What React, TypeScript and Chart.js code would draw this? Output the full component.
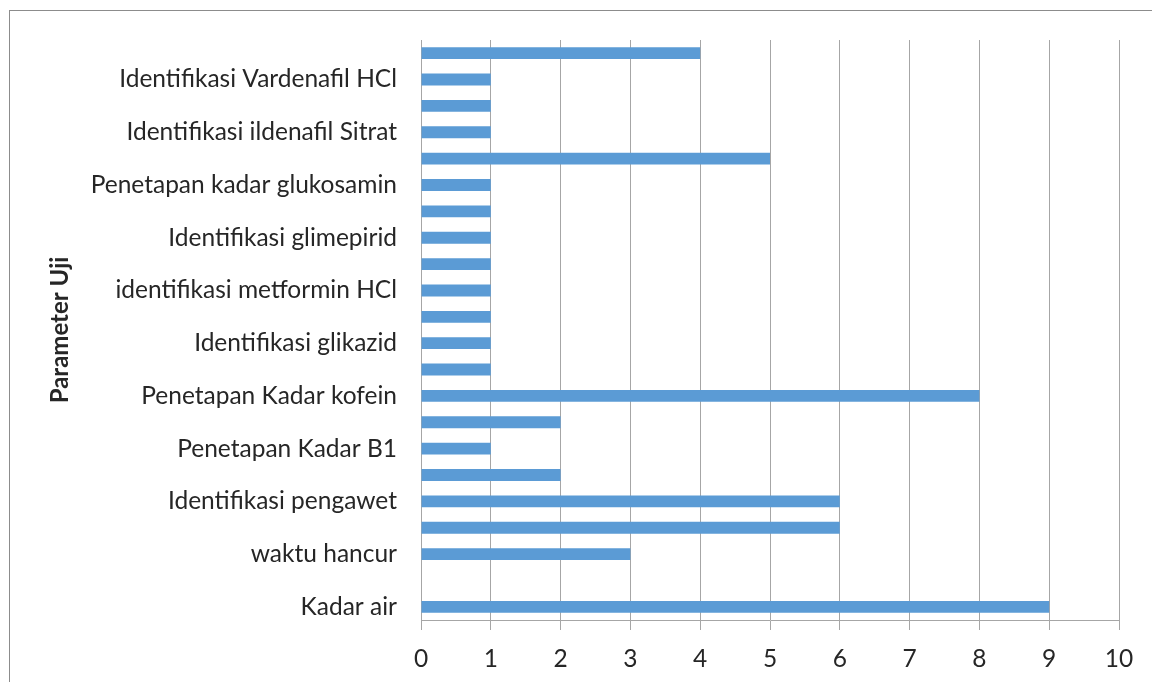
import React, { useEffect, useRef } from "react";
import { Chart, registerables } from "chart.js";

Chart.register(...registerables);

// Categories listed top to bottom (only every other label is shown in the reference)
const categories: string[] = [
  "",
  "Identifikasi Vardenafil HCl",
  "",
  "Identifikasi ildenafil Sitrat",
  "",
  "Penetapan kadar glukosamin",
  "",
  "Identifikasi glimepirid",
  "",
  "identifikasi metformin HCl",
  "",
  "Identifikasi glikazid",
  "",
  "Penetapan Kadar kofein",
  "",
  "Penetapan Kadar B1",
  "",
  "Identifikasi pengawet",
  "",
  "waktu hancur",
  "",
  "Kadar air",
];

const values: number[] = [4, 1, 1, 1, 5, 1, 1, 1, 1, 1, 1, 1, 1, 8, 2, 1, 2, 6, 6, 3, 0, 9];

const xTicks: number[] = [0, 1, 2, 3, 4, 5, 6, 7, 8, 9, 10];

const axisTitle = "Parameter Uji";

export default function App() {
  const ref = useRef<HTMLCanvasElement | null>(null);

  useEffect(() => {
    if (!ref.current) return;
    const gridColor = "#a6a6a6";
    const textColor = "#262626";
    const chart = new Chart(ref.current, {
      type: "bar",
      data: {
        labels: categories,
        datasets: [
          {
            data: values,
            backgroundColor: "#5b9bd5",
            borderWidth: 0,
            categoryPercentage: 1,
            barPercentage: 0.45,
          },
        ],
      },
      options: {
        indexAxis: "y",
        animation: false,
        responsive: false,
        maintainAspectRatio: false,
        layout: { padding: { left: 30, right: 33, top: 40, bottom: 0 } },
        plugins: {
          legend: { display: false },
          tooltip: { enabled: false },
        },
        scales: {
          x: {
            min: xTicks[0],
            max: xTicks[xTicks.length - 1],
            afterBuildTicks: (scale: any) => {
              scale.ticks = xTicks.map((v) => ({ value: v }));
            },
            afterFit: (scale: any) => {
              scale.height = 62;
            },
            grid: {
              color: gridColor,
              lineWidth: 1,
              drawTicks: true,
              tickLength: 10,
              tickColor: gridColor,
            },
            border: { display: true, color: gridColor, width: 1 },
            ticks: {
              color: textColor,
              padding: 14,
              font: { family: "Lato", size: 24.5 },
              maxRotation: 0,
            },
          },
          y: {
            afterFit: (scale: any) => {
              scale.width = 391;
            },
            grid: { display: false, drawTicks: false, tickLength: 0 },
            border: { display: true, color: gridColor, width: 1 },
            ticks: {
              autoSkip: false,
              color: textColor,
              padding: 24,
              font: { family: "Lato", size: 24.5 },
            },
            title: {
              display: true,
              text: axisTitle,
              color: textColor,
              font: { family: "Lato", size: 24, weight: "bold" },
              padding: { top: 15.6, bottom: 0 },
            },
          },
        },
      },
    });
    return () => chart.destroy();
  }, []);

  return (
    <div
      style={{
        position: "absolute",
        left: 0,
        top: 0,
        width: 1152,
        height: 682,
        overflow: "hidden",
        background: "#fff",
      }}
    >
      <div
        style={{
          position: "absolute",
          left: 9,
          top: 10,
          width: 1200,
          height: 720,
          border: "1px solid #8c8c8c",
        }}
      />
      <canvas
        ref={ref}
        width={1152}
        height={682}
        style={{ position: "absolute", left: 0, top: 0, width: 1152, height: 682 }}
      />
    </div>
  );
}
